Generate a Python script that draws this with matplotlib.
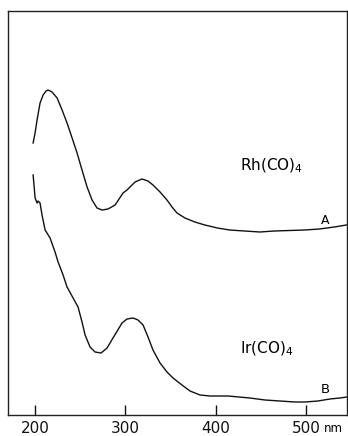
import matplotlib
matplotlib.use("Agg")
import matplotlib.pyplot as plt
import matplotlib.transforms as mtransforms

# spectrum A : Rh(CO)4  (wavelength nm, absorbance arb. units)
a_nm = [197.8, 198.9, 200, 202.2, 205.5, 208.9, 212.2, 214.4, 218.8, 224.4, 229.9, 235.4,
        241, 246.5, 252, 257.6, 263.1, 268.6, 274.2, 280.8, 288.6, 297.4, 301.8, 310.7,
        318.4, 325, 330.6, 338.4, 346.1, 351.7, 357.2, 366, 377, 388, 402, 415.5, 432,
        449, 465, 482, 498.5, 515, 531.5, 544.8]
a_abs = [2.71, 2.76, 2.81, 2.94, 3.11, 3.19, 3.23, 3.24, 3.22, 3.16, 3.04, 2.91,
         2.76, 2.61, 2.44, 2.27, 2.14, 2.06, 2.04, 2.05, 2.09, 2.21, 2.24, 2.32,
         2.35, 2.33, 2.29, 2.22, 2.14, 2.07, 2.01, 1.96, 1.92, 1.89, 1.86, 1.84, 1.83,
         1.82, 1.83, 1.835, 1.84, 1.85, 1.87, 1.89]

# spectrum B : Ir(CO)4
b_nm = [197.8, 198.9, 200, 202.2, 203.3, 205.5, 207.7, 211.1, 216.6, 222.1, 225.5, 231,
        235.4, 242.1, 247.6, 252, 255.4, 260.9, 266.4, 273.1, 279.7, 286.3, 296.3, 301.8,
        308.5, 314, 319.6, 325.1, 330.6, 338.4, 346.1, 352.8, 362.7, 371.6, 382.7, 393.7,
        413.6, 438, 454.6, 471.2, 487.8, 498.9, 513.2, 526.6, 537.6, 545.4]
b_abs = [2.39, 2.28, 2.16, 2.11, 2.13, 2.11, 1.99, 1.84, 1.76, 1.62, 1.52, 1.39,
         1.27, 1.16, 1.07, 0.92, 0.79, 0.67, 0.62, 0.61, 0.66, 0.76, 0.91, 0.95,
         0.96, 0.94, 0.89, 0.77, 0.64, 0.51, 0.42, 0.36, 0.29, 0.23, 0.19, 0.18,
         0.18, 0.16, 0.14, 0.13, 0.12, 0.12, 0.13, 0.15, 0.16, 0.17]

ticks = [200, 300, 400, 500]
tick_labels = ["200", "300", "400", "500"]

fig = plt.figure(figsize=(3.48, 4.36), dpi=100)
ax = fig.add_axes([8 / 348, 21 / 436, 339 / 348, 404 / 436])

ax.plot(a_nm, a_abs, color="#111111", lw=1.0)
ax.plot(b_nm, b_abs, color="#111111", lw=1.0)

ax.set_xlim(170, 545.5)
ax.set_ylim(-0.01, 4.03)
ax.set_xticks(ticks)
ax.set_xticklabels(tick_labels, fontsize=11)
ax.set_yticks([])
ax.tick_params(axis="x", direction="in", length=7, width=1, pad=4, colors="#111111")
for s in ax.spines.values():
    s.set_color("#222222")
    s.set_linewidth(1.0)

ax.text(426.5, 2.44, r"Rh(CO)$_4$", fontsize=11, va="baseline", ha="left")
ax.text(426.5, 0.61, r"Ir(CO)$_4$", fontsize=11, va="baseline", ha="left")
ax.text(521, 1.94, "A", fontsize=9, ha="center", va="center")
ax.text(521, 0.25, "B", fontsize=9.5, ha="center", va="center")

trans = mtransforms.blended_transform_factory(ax.transData, ax.transAxes)
ax.text(519.5, -16.5 / 404, "nm", fontsize=8.5, transform=trans, ha="left", va="baseline")

fig.savefig("out.png", dpi=100)
